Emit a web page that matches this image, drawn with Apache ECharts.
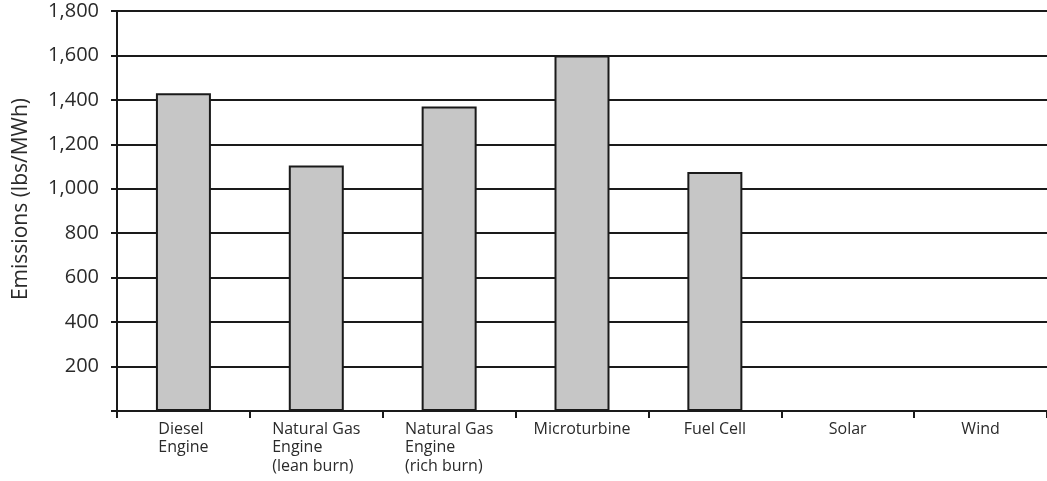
<!DOCTYPE html>
<html>
<head>
<meta charset="utf-8">
<script src="https://cdn.jsdelivr.net/npm/echarts@6/dist/echarts.min.js"></script>
<style>
  html, body { margin: 0; padding: 0; background: #fff; }
  #chart { width: 1047px; height: 481px; }
</style>
</head>
<body>
<div id="chart"></div>
<script>
var categories = [
  'Diesel\nEngine',
  'Natural Gas\nEngine\n(lean burn)',
  'Natural Gas\nEngine\n(rich burn)',
  'Microturbine',
  'Fuel Cell',
  'Solar',
  'Wind'
];
var emissions = [1430, 1105, 1370, 1600, 1075, 0, 0];
var yTicks = { min: 0, max: 1800, interval: 200 };
var yAxisTitle = 'Emissions (lbs/MWh)';

var chart = echarts.init(document.getElementById('chart'));
var fontFam = '"Open Sans", "DejaVu Sans", sans-serif';
chart.setOption({
  animation: false,
  backgroundColor: '#ffffff',
  grid: { left: 117, right: 0, top: 11, bottom: 70, containLabel: false },
  xAxis: {
    type: 'category',
    data: categories,
    boundaryGap: true,
    axisLine: { show: true, lineStyle: { color: '#1a1a1a', width: 2 } },
    axisTick: { show: true, alignWithLabel: false, length: 7, lineStyle: { color: '#1a1a1a', width: 2 } },
    axisLabel: {
      interval: 0,
      margin: 9,
      color: '#2a2a2a',
      fontFamily: fontFam,
      fontSize: 16,
      formatter: function (v) {
        return v.split('\n').map(function (s) { return '{a|' + s + '}'; }).join('\n');
      },
      rich: { a: { align: 'left', fontFamily: fontFam, fontSize: 16, lineHeight: 18.5, color: '#2a2a2a' } }
    },
    splitLine: { show: false }
  },
  yAxis: {
    type: 'value',
    min: yTicks.min,
    max: yTicks.max,
    interval: yTicks.interval,
    name: yAxisTitle,
    nameLocation: 'middle',
    nameGap: 85,
    nameRotate: 90,
    nameTextStyle: { fontFamily: fontFam, fontSize: 21, color: '#2a2a2a', padding: [0, 0, 0, 24] },
    axisLine: { show: true, lineStyle: { color: '#1a1a1a', width: 2 } },
    axisTick: { show: true, length: 6, lineStyle: { color: '#1a1a1a', width: 2 } },
    axisLabel: {
      margin: 18,
      color: '#2a2a2a',
      fontFamily: fontFam,
      fontSize: 20,
      formatter: function (v) {
        if (v === 0) return '';
        return v.toLocaleString('en-US');
      }
    },
    splitLine: { show: true, lineStyle: { color: '#1a1a1a', width: 2 } }
  },
  series: [{
    type: 'bar',
    data: emissions,
    barWidth: 55,
    itemStyle: { color: '#c6c6c6', borderColor: '#1a1a1a', borderWidth: 2 },
    z: 3
  }]
});
</script>
</body>
</html>
